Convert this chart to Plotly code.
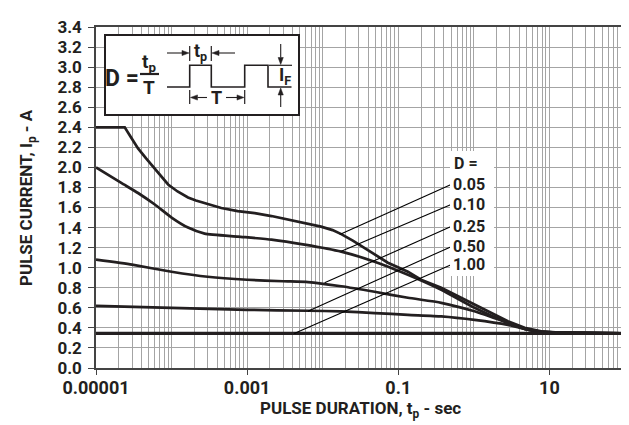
import math
import plotly.graph_objects as go

# ---------------- data ----------------
duty_labels = ["0.05", "0.10", "0.25", "0.50", "1.00"]

x_d005 = [1e-5, 2.4e-5, 2.9e-5, 3.6e-5, 4.6e-5, 6e-5, 7.4e-5, 9e-5, 1.2e-4, 1.65e-4, 2.1e-4, 2.74e-4,
          4.55e-4, 7.5e-4, 1.26e-3, 2.1e-3, 3.5e-3, 6e-3, 9.5e-3, 0.0135, 0.0176, 0.025, 0.0486,
          0.0728, 0.134, 0.2, 0.37, 0.6, 1.02, 1.7, 2.82, 4.7, 7.8, 12, 26, 100]
y_d005 = [2.40, 2.40, 2.30, 2.19, 2.09, 1.99, 1.91, 1.83, 1.76, 1.70, 1.67, 1.645,
          1.595, 1.565, 1.545, 1.515, 1.48, 1.445, 1.41, 1.375, 1.335, 1.27, 1.13,
          1.05, 0.96, 0.88, 0.80, 0.72, 0.63, 0.545, 0.466, 0.40, 0.366, 0.355, 0.35, 0.345]

x_d010 = [1e-5, 2.16e-5, 3.6e-5, 6e-5, 1e-4, 1.65e-4, 2.74e-4, 7.6e-4, 2.1e-3, 5.75e-3,
          0.0176, 0.0486, 0.134, 0.37, 1.02, 2.82, 4.7, 7.8, 26, 100]
y_d010 = [2.00, 1.845, 1.745, 1.63, 1.50, 1.40, 1.34, 1.31, 1.28, 1.23,
          1.16, 1.06, 0.93, 0.78, 0.60, 0.45, 0.39, 0.36, 0.35, 0.345]

x_d025 = [1e-5, 3e-5, 1e-4, 3e-4, 1e-3, 3e-3, 6.4e-3, 0.0176, 0.0486, 0.134, 0.37,
          1.02, 2.82, 4.7, 7.8, 26, 100]
y_d025 = [1.08, 1.03, 0.96, 0.91, 0.88, 0.865, 0.857, 0.815, 0.76, 0.70, 0.65,
          0.565, 0.45, 0.39, 0.36, 0.35, 0.345]

x_d050 = [1e-5, 1e-4, 1e-3, 6.4e-3, 0.0176, 0.0486, 0.134, 0.37, 1.02, 2.82, 4.7,
          7.8, 26, 100]
y_d050 = [0.62, 0.60, 0.58, 0.571, 0.565, 0.548, 0.53, 0.515, 0.48, 0.43, 0.39,
          0.36, 0.35, 0.345]

x_d100 = [1e-5, 100]
y_d100 = [0.345, 0.345]

# leader lines from the D labels to the curves
leader_x_start = [0.5, 0.5, 0.5, 0.5, 0.5]
leader_y_start = [1.83, 1.63, 1.41, 1.21, 1.03]
leader_x_end = [0.0168, 0.0176, 0.0106, 0.00637, 0.0042]
leader_y_end = [1.33, 1.163, 0.85, 0.565, 0.345]
d_header_y = 2.04

x_tick_vals = [1e-5, 1e-3, 0.1, 10]
x_tick_text = ["0.00001", "0.001", "0.1", "10"]
y_tick_vals = [round(0.2 * i, 1) for i in range(18)]
y_tick_text = ["%.1f" % v for v in y_tick_vals]

# ---------------- figure ----------------
FONT = "Roboto, sans-serif"
INK = "#231f20"
GRID = "#a4a4a4"

W, H = 629, 425
L, R, T, B = 88, 12, 19, 65
PW, PH = W - L - R, H - T - B


def P(px, py):
    """pixel position -> paper coordinates"""
    return (px - L) / PW, (H - B - py) / PH


fig = go.Figure()
curves = [(x_d005, y_d005), (x_d010, y_d010), (x_d025, y_d025), (x_d050, y_d050), (x_d100, y_d100)]
for i, (xs, ys) in enumerate(curves):
    shape = "linear" if i == 0 else "spline"
    fig.add_trace(go.Scatter(x=xs, y=ys, mode="lines",
                             line=dict(color=INK, width=3.4 if i == 4 else 2.7, shape=shape, smoothing=0.5),
                             showlegend=False, hoverinfo="skip"))

for xs, ys, xe, ye in zip(leader_x_start, leader_y_start, leader_x_end, leader_y_end):
    fig.add_trace(go.Scatter(x=[xs, xe], y=[ys, ye], mode="lines", line=dict(color="#000", width=1.1),
                             showlegend=False, hoverinfo="skip"))

shapes = []
annotations = []

# white panel behind D labels
x0, y0 = P(442, 268)
x1, y1 = P(486, 143)
shapes.append(dict(type="rect", xref="paper", yref="paper", x0=x0, y0=y0, x1=x1, y1=y1,
                   fillcolor="white", line=dict(width=0), layer="above"))
annotations.append(dict(xref="x", yref="y", x=math.log10(0.5), y=d_header_y, text="<b>D =</b>",
                        showarrow=False, xanchor="left", yanchor="middle", xshift=1,
                        font=dict(family=FONT, size=16, color=INK)))
for lab, ys in zip(duty_labels, leader_y_start):
    annotations.append(dict(xref="x", yref="y", x=math.log10(0.5), y=ys, text="<b>%s</b>" % lab,
                            showarrow=False, xanchor="left", yanchor="middle", xshift=0,
                            font=dict(family=FONT, size=16, color=INK)))

# inset box
x0, y0 = P(97, 107)
x1, y1 = P(291, 27)
shapes.append(dict(type="rect", xref="paper", yref="paper", x0=x0, y0=y0, x1=x1, y1=y1,
                   fillcolor="white", line=dict(color=INK, width=2), layer="above"))


def line(a, b, w=1.2):
    xa, ya = P(*a)
    xb, yb = P(*b)
    shapes.append(dict(type="line", xref="paper", yref="paper", x0=xa, y0=ya, x1=xb, y1=yb,
                       line=dict(color=INK, width=w), layer="above"))


def poly(pts, fill=None, w=1.6):
    path = ""
    for k, (px, py) in enumerate(pts):
        xa, ya = P(px, py)
        path += ("M" if k == 0 else "L") + "%.5f,%.5f" % (xa, ya)
    if fill:
        path += "Z"
    shapes.append(dict(type="path", xref="paper", yref="paper", path=path,
                       fillcolor=fill if fill else "rgba(0,0,0,0)",
                       line=dict(color=INK, width=w if not fill else 0.5), layer="above"))


def text(px, py, s, size, angle=0):
    xa, ya = P(px, py)
    annotations.append(dict(xref="paper", yref="paper", x=xa, y=ya, text=s, showarrow=False,
                            xanchor="center", yanchor="middle", textangle=angle,
                            font=dict(family=FONT, size=size, color=INK)))


def arrow(tail, head, hl=7.0, hw=2.6):
    dx, dy = head[0] - tail[0], head[1] - tail[1]
    n = math.hypot(dx, dy)
    ux, uy = dx / n, dy / n
    bx, by = head[0] - ux * hl, head[1] - uy * hl
    line(tail, (bx, by), 1.1)
    poly([head, (bx - uy * hw, by + ux * hw), (bx + uy * hw, by - ux * hw)], fill=INK)


# D = tp / T
text(114, 70, "<b>D =</b>", 23)
text(141, 54, "<b>t<sub>p</sub></b>", 19)
line((132, 66), (151, 66), 2.2)
text(141, 80, "<b>T</b>", 19)

# waveform
poly([(159, 79), (181.7, 79), (181.7, 57.3), (203.3, 57.3), (203.3, 79), (236.7, 79),
      (236.7, 57.3), (260, 57.3), (260, 79), (283.5, 79)])

# tp dimension
line((181.7, 38), (181.7, 53))
line((203.3, 38), (203.3, 53))
arrow((159, 45), (181, 45))
arrow((227, 45), (204, 45))
text(192.5, 44, "<b>t<sub>p</sub></b>", 18)

# T dimension
line((181.7, 82), (181.7, 96))
line((236.7, 82), (236.7, 96))
arrow((199, 89.5), (182.5, 89.5))
arrow((218, 89.5), (236, 89.5))
text(208.5, 89.5, "<b>T</b>", 18)

# IF dimension
line((261, 57.3), (284, 57.3))
arrow((272.7, 36), (272.7, 56.5))
arrow((272.7, 99), (272.7, 80))
text(277, 68, "<b>I<sub>F</sub></b>", 18)

# axis titles
text((L + W - R) / 2, 402, "<b>PULSE DURATION, t<sub>p</sub> - sec</b>", 17)
text(19, 190, "<b>PULSE CURRENT, I<sub>p</sub> - A</b>", 17, angle=-90)

fig.update_layout(
    width=W, height=H,
    margin=dict(l=L, r=R, t=T, b=B, autoexpand=False),
    paper_bgcolor="white", plot_bgcolor="white",
    shapes=shapes, annotations=annotations,
    font=dict(family=FONT, color=INK),
    showlegend=False,
)
fig.update_xaxes(
    type="log", range=[-5, 2], automargin=False,
    tickvals=x_tick_vals, ticktext=["<b>%s</b>" % t for t in x_tick_text],
    tickfont=dict(family=FONT, size=18, color=INK),
    ticks="outside", ticklen=5, tickcolor="#444", tickwidth=1, ticklabelstandoff=-2,
    showgrid=True, gridcolor=GRID, gridwidth=1.2,
    minor=dict(dtick="D1", showgrid=True, gridcolor=GRID, gridwidth=1.2, ticks=""),
    showline=True, linecolor="#444", linewidth=1.5, mirror=True,
)
fig.update_yaxes(
    range=[0, 3.4], automargin=False,
    tickvals=y_tick_vals, ticktext=["<b>%s</b>" % t for t in y_tick_text],
    tickfont=dict(family=FONT, size=17, color=INK),
    ticks="outside", ticklen=6, tickcolor="#444", tickwidth=1, ticklabelstandoff=3,
    showgrid=True, gridcolor=GRID, gridwidth=1.2, zeroline=False,
    showline=True, linecolor="#444", linewidth=1.5, mirror=True,
)

fig.write_html("out.html")
